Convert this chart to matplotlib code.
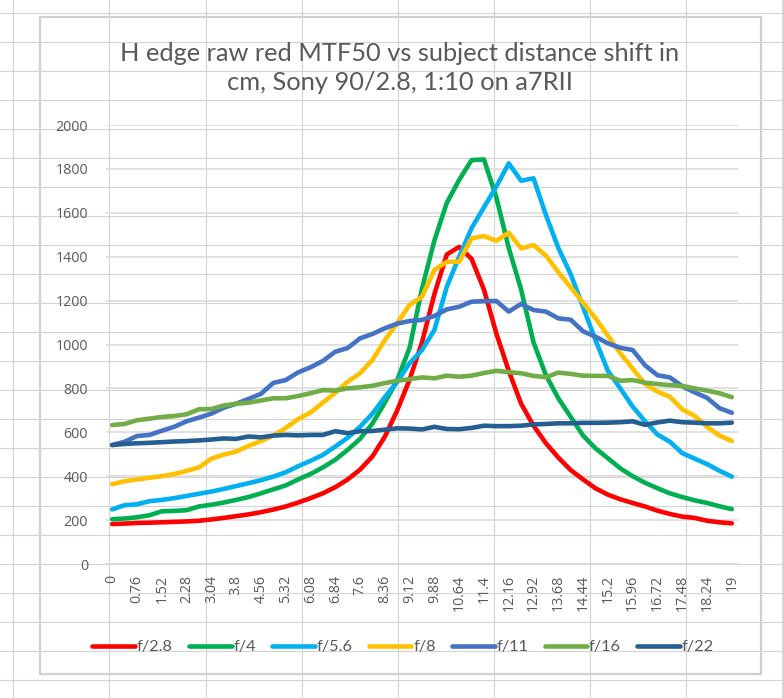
import matplotlib
matplotlib.use("Agg")
import matplotlib.pyplot as plt
from matplotlib.patches import Rectangle

# subject distance shift in cm (category axis)
shift_cm = [0, 0.38, 0.76, 1.14, 1.52, 1.9, 2.28, 2.66, 3.04, 3.42, 3.8, 4.18, 4.56,
            4.94, 5.32, 5.7, 6.08, 6.46, 6.84, 7.22, 7.6, 7.98, 8.36, 8.74, 9.12, 9.5,
            9.88, 10.26, 10.64, 11.02, 11.4, 11.78, 12.16, 12.54, 12.92, 13.3, 13.68,
            14.06, 14.44, 14.82, 15.2, 15.58, 15.96, 16.34, 16.72, 17.1, 17.48, 17.86,
            18.24, 18.62, 19]

# MTF50 per aperture
f2_8 = [182, 184, 187, 188, 190, 192, 194, 197, 203, 210, 218, 226, 236, 248, 262,
        280, 300, 322, 350, 385, 430, 490, 580, 700, 840, 1010, 1230, 1410, 1445, 1390,
        1250, 1050, 880, 730, 630, 550, 485, 428, 385, 345, 316, 295, 278, 262, 243,
        228, 216, 210, 197, 190, 185]
f4 = [204, 207, 213, 222, 240, 242, 245, 262, 270, 280, 292, 305, 322, 340, 358,
      385, 410, 440, 475, 520, 570, 640, 735, 838, 985, 1255, 1474, 1645, 1750, 1840,
      1843, 1670, 1440, 1250, 1010, 860, 755, 670, 585, 527, 482, 436, 400, 370, 345,
      322, 305, 290, 278, 263, 250]
f5_6 = [249, 268, 272, 286, 292, 300, 310, 320, 330, 342, 355, 368, 382, 398, 418,
        445, 470, 497, 535, 575, 625, 685, 760, 830, 915, 975, 1066, 1263, 1400, 1530,
        1625, 1720, 1825, 1746, 1757, 1590, 1440, 1320, 1170, 1020, 880, 800, 717, 650,
        590, 557, 505, 480, 455, 425, 398]
f8 = [364, 377, 385, 393, 400, 410, 424, 440, 480, 498, 512, 538, 560, 585, 620,
      660, 690, 735, 780, 830, 869, 930, 1020, 1098, 1180, 1218, 1340, 1377, 1377, 1484,
      1494, 1473, 1509, 1438, 1453, 1405, 1330, 1260, 1190, 1120, 1040, 960, 890, 820,
      785, 762, 705, 675, 625, 585, 560]
f11 = [542, 557, 583, 588, 607, 625, 650, 667, 685, 712, 730, 752, 775, 825, 838,
       873, 896, 925, 967, 984, 1028, 1048, 1074, 1095, 1107, 1112, 1130, 1160, 1172, 1195,
       1198, 1198, 1150, 1185, 1157, 1150, 1119, 1113, 1060, 1036, 1005, 985, 975, 905,
       860, 850, 810, 782, 757, 710, 689]
f16 = [633, 638, 655, 662, 670, 674, 682, 705, 706, 722, 730, 735, 745, 755, 755,
       765, 778, 792, 790, 800, 805, 812, 824, 835, 842, 850, 846, 858, 853, 858,
       870, 880, 874, 869, 857, 851, 872, 866, 858, 857, 857, 835, 838, 826, 820,
       815, 811, 800, 790, 778, 760]
f22 = [542, 547, 550, 552, 555, 558, 560, 563, 567, 572, 570, 581, 577, 585, 588,
       586, 588, 588, 605, 596, 605, 606, 612, 618, 617, 613, 625, 615, 614, 620,
       630, 628, 628, 630, 636, 638, 641, 641, 643, 643, 644, 646, 650, 634, 645,
       653, 646, 644, 641, 641, 644]

series = [("f/2.8", f2_8, "#FF0000"), ("f/4", f4, "#00B050"), ("f/5.6", f5_6, "#00B0F0"),
          ("f/8", f8, "#FFC000"), ("f/11", f11, "#4472C4"), ("f/16", f16, "#70AD47"),
          ("f/22", f22, "#255E91")]

y_ticks = list(range(0, 2001, 200))

W, H = 783, 698
TEXT = "#595959"
plt.rcParams['font.family'] = ['Lato', 'DejaVu Sans']

fig = plt.figure(figsize=(W / 100, H / 100), dpi=100)

# spreadsheet cells behind the chart object
bg = fig.add_axes([0, 0, 1, 1])
bg.set_xlim(0, W)
bg.set_ylim(H, 0)
bg.axis('off')
for cx in [13, 109, 206, 302, 398, 494, 590, 686, 782]:
    bg.axvline(cx, color="#d4d4d4", lw=0.8)
for ry in range(13, H, 29):
    bg.axhline(ry, color="#d4d4d4", lw=0.8)
bg.add_patch(Rectangle((40, 17), 721, 657, facecolor="white", edgecolor="#d0d0d0", lw=1.6))

ax = fig.add_axes([106 / W, 1 - 564 / H, 632 / W, 439 / H])
ax.set_facecolor("none")
x = list(range(len(shift_cm)))
for label, vals, color in series:
    ax.plot(x, vals, color=color, lw=3.3, label=label,
            solid_capstyle='round', solid_joinstyle='round')

ax.set_xlim(-0.5, len(shift_cm) - 0.5)
ax.set_ylim(0, 2000)
ax.set_yticks(y_ticks)
ax.set_xticks(x[::2])
ax.set_xticklabels([f"{v:g}" for v in shift_cm[::2]], rotation=90)
ax.grid(axis='y', color="#d9d9d9", lw=1.1)
ax.set_axisbelow(True)
for s in ['top', 'right', 'left']:
    ax.spines[s].set_visible(False)
ax.spines['bottom'].set_color("#d9d9d9")
ax.spines['bottom'].set_linewidth(1.1)
ax.tick_params(length=0, colors=TEXT, labelsize=10.3, labelfontfamily='Open Sans')
ax.tick_params(axis='y', pad=13)
ax.tick_params(axis='x', pad=8)

fig.text(400 / W, 1 - 68 / H,
         "H edge raw red MTF50 vs subject distance shift in\ncm, Sony 90/2.8, 1:10 on a7RII",
         ha='center', va='center', fontsize=18.3, color=TEXT, linespacing=1.3)

fig.legend(loc='center', bbox_to_anchor=(403 / W, 1 - 647 / H), ncol=7, frameon=False,
           fontsize=11.8, labelcolor=TEXT, handlelength=2.6, handletextpad=0.1,
           columnspacing=1.0)

plt.savefig("out.png", dpi=100)
